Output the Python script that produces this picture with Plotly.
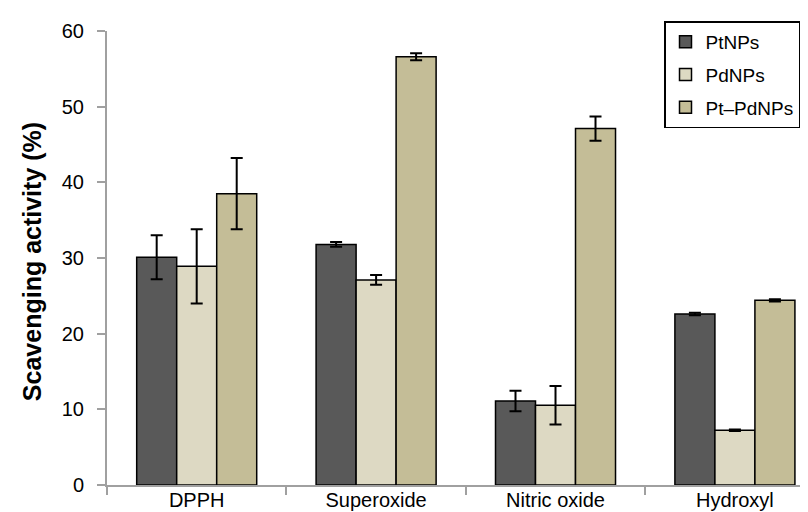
import plotly.graph_objects as go

categories = ["DPPH", "Superoxide", "Nitric oxide", "Hydroxyl"]
series_names = ["PtNPs", "PdNPs", "Pt\u2013PdNPs"]
pt_values = [30.1, 31.8, 11.1, 22.6]
pt_errors = [2.9, 0.3, 1.35, 0.15]
pd_values = [28.9, 27.1, 10.55, 7.25]
pd_errors = [4.9, 0.65, 2.55, 0.1]
ptpd_values = [38.5, 56.6, 47.1, 24.4]
ptpd_errors = [4.7, 0.45, 1.6, 0.15]
colors = ["#595959", "#DDD9C3", "#C4BD97"]
y_ticks = [0, 10, 20, 30, 40, 50, 60]

FONT = "Liberation Sans, Arial, sans-serif"

fig = go.Figure()
for name, vals, errs, col in zip(series_names,
                                 [pt_values, pd_values, ptpd_values],
                                 [pt_errors, pd_errors, ptpd_errors],
                                 colors):
    fig.add_trace(go.Bar(
        x=categories, y=vals, name=name, legendgroup=name,
        marker=dict(color=col, line=dict(color="#000000", width=1.5)),
        error_y=dict(type="data", array=errs, visible=True,
                     color="#000000", thickness=2, width=6),
    ))

fig.update_layout(
    width=808, height=512,
    margin=dict(l=99, r=0, t=22.5, b=34.7, autoexpand=False),
    paper_bgcolor="white", plot_bgcolor="white",
    barmode="group", bargap=0.331, bargroupgap=0,
    font=dict(family=FONT, size=20, color="#000000"),
    showlegend=True,
    legend=dict(
        x=(656 - 99) / 709, y=1.021, xanchor="left", yanchor="top",
        bordercolor="#000000", borderwidth=1.5, bgcolor="white",
        font=dict(family=FONT, size=19, color="#000000"),
        tracegroupgap=5,
    ),
    xaxis=dict(
        type="category", range=[-0.5, 3.452], automargin=False,
        showline=True, linecolor="#A0A0A0", linewidth=2,
        ticks="outside", tickson="boundaries", ticklen=8, tickwidth=2,
        tickcolor="#A0A0A0", showgrid=False, ticklabelstandoff=-4,
        tickfont=dict(family=FONT, size=20, color="#000000"),
    ),
    yaxis=dict(
        range=[0, 60], tickvals=y_ticks, automargin=False,
        showline=True, linecolor="#A0A0A0", linewidth=2,
        ticks="outside", ticklen=8, tickwidth=2, tickcolor="#A0A0A0",
        showgrid=False, zeroline=False, ticklabelstandoff=9,
        tickfont=dict(family=FONT, size=20, color="#000000"),
    ),
    annotations=[dict(
        text="<b>Scavenging activity (%)</b>", textangle=-90,
        xref="paper", yref="paper", x=(23.5 - 99) / 709, y=0.492,
        xanchor="center", yanchor="middle", showarrow=False,
        font=dict(family=FONT, size=25, color="#000000"),
    )],
)

fig.write_html("out.html")
